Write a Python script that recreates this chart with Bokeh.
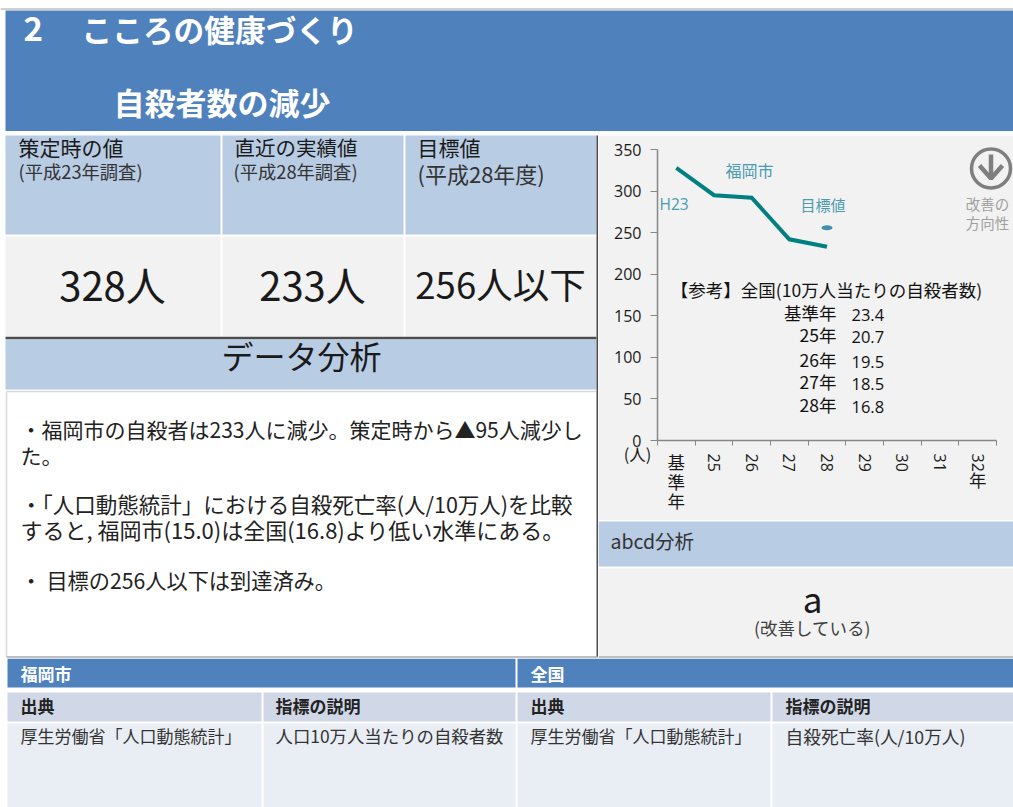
import math
from bokeh.plotting import figure
from bokeh.layouts import column, row
from bokeh.models import Range1d, LinearAxis, FixedTicker
from bokeh.core.properties import value
from bokeh.embed import file_html
from bokeh.resources import INLINE

# ---- chart data ----
year_labels = ["基準年", "25", "26", "27", "28", "29", "30", "31", "32年"]
fukuoka_values = [328, 295, 292, 242, 233]
target_value = [256]
target_index = [4]
y_ticks = [0, 50, 100, 150, 200, 250, 300, 350]
national_title = "【参考】全国(10万人当たりの自殺者数)"
national_years = ["基準年", "25年", "26年", "27年", "28年"]
national_values = ["23.4", "20.7", "19.5", "18.5", "16.8"]

# ---- texts ----
title_line1 = "こころの健康づくり"
title_line2 = "自殺者数の減少"
head_main = ["策定時の値", "直近の実績値", "目標値"]
head_sub = ["(平成23年調査)", "(平成28年調査)", "(平成28年度)"]
kpi_values = ["328人", "233人", "256人以下"]
analysis_lines = [
    "・福岡市の自殺者は233人に減少。策定時から▲95人減少し",
    "た。",
    "・「人口動態統計」における自殺死亡率(人/10万人)を比較",
    "すると, 福岡市(15.0)は全国(16.8)より低い水準にある。",
    "・ 目標の256人以下は到達済み。",
]
source_regions = ["福岡市", "全国"]
source_heads = ["出典", "指標の説明"]
source_cells = ["厚生労働省「人口動態統計」", "人口10万人当たりの自殺者数", "厚生労働省「人口動態統計」", "自殺死亡率(人/10万人)"]

JP = "Noto Sans CJK JP"
LAT = "Open Sans"
BANNER = "#4f81bd"
HEAD = "#b8cce4"
PANEL = "#f2f2f2"
DARK = "#4d4d4d"
TEAL = "#4a9ab0"


def sheet(x0, x1, y0, y1):
    p = figure(width=x1 - x0, height=y1 - y0, output_backend="svg", toolbar_location=None,
               x_range=Range1d(x0, x1), y_range=Range1d(y1, y0),
               x_axis_location=None, y_axis_location=None, min_border=0,
               outline_line_color=None, background_fill_color="white", border_fill_color="white")
    p.grid.visible = False
    return p


def box(p, x0, x1, y0, y1, color, **kw):
    p.quad(left=[x0], right=[x1], top=[y0], bottom=[y1], fill_color=color, line_color=None, **kw)


def rule(p, x0, y0, x1, y1, color, w, **kw):
    p.segment(x0=[x0], y0=[y0], x1=[x1], y1=[y1], line_color=color, line_width=w, **kw)


def txt(p, x, y, s, size, color="#1a1a1a", font=JP, style="normal", align="left", **kw):
    lift = -size * 0.1 if font == JP else 0
    p.text(x=[x], y=[y], text=[s], text_font=value(font), text_font_size=value(f"{size}px"),
           text_font_style=style, text_color=color, text_align=align, text_baseline="middle",
           y_offset=lift, **kw)


# ---- top banner ----
top = sheet(0, 1013, 0, 131)
rule(top, 0, 8.5, 1013, 8.5, "#d0d0d0", 2)
box(top, 5, 1013, 10, 131, BANNER)
txt(top, 23, 31, "2", 33, "white", style="bold")
txt(top, 81, 31, title_line1, 30.7, "white", style="bold")
txt(top, 113, 104, title_line2, 31, "white", style="bold")

# ---- left column ----
left = sheet(0, 598, 131, 658)
cols = [(5, 220), (222, 403), (405, 596)]
for (a, b) in cols:
    box(left, a, b, 135, 234, HEAD)
    box(left, a, b, 236, 336, PANEL)
box(left, 5, 596, 339, 389, HEAD)
rule(left, 5, 337.5, 596, 337.5, DARK, 2.5)
rule(left, 6, 391, 596, 391, "#d9d9d9", 1.5)
rule(left, 6, 391, 6, 656, "#d9d9d9", 1.5)
rule(left, 6, 656.5, 598, 656.5, "#bfbfbf", 2)
rule(left, 597, 135, 597, 656, DARK, 2)
txt(left, 18, 149, head_main[0], 21)
txt(left, 234, 149, head_main[1], 20.5)
txt(left, 417, 149, head_main[2], 21)
txt(left, 18, 172, head_sub[0], 18.3, "#333333")
txt(left, 233, 172, head_sub[1], 18.3, "#333333")
txt(left, 417, 175, head_sub[2], 22, "#333333")
txt(left, 112, 287, kpi_values[0], 40, align="center")
txt(left, 312, 287, kpi_values[1], 40, align="center")
txt(left, 500, 287, kpi_values[2], 36.5, align="center")
txt(left, 301, 358, "データ分析", 32, align="center")
for yy, line, z in zip([431, 457, 505, 531, 581], analysis_lines, [21, 21, 21.5, 22, 21.2]):
    txt(left, 20, yy, line, z, "#222222")

# ---- chart ----
PX_L, PX_R, PX_T, PX_B = 598, 1013, 131, 520
X0_PX, X9_PX, Y0_PX, Y350_PX = 657, 996, 440, 149
ux = (X9_PX - X0_PX) / len(year_labels)
uy = (Y0_PX - Y350_PX) / 350
chart = figure(width=PX_R - PX_L, height=PX_B - PX_T, output_backend="svg", toolbar_location=None,
               x_range=Range1d((PX_L - X0_PX) / ux, (PX_R - X0_PX) / ux),
               y_range=Range1d((Y0_PX - PX_B) / uy, (Y0_PX - PX_T) / uy),
               x_axis_location=None, y_axis_location=None, min_border=0,
               outline_line_color=None, background_fill_color=PANEL, border_fill_color=PANEL)
chart.grid.visible = False
chart.extra_x_ranges["px"] = Range1d(PX_L, PX_R)
chart.extra_y_ranges["px"] = Range1d(PX_B, PX_T)
PXK = dict(x_range_name="px", y_range_name="px")
box(chart, PX_L, PX_R, PX_T, 135, "white", **PXK)

yaxis = LinearAxis(ticker=FixedTicker(ticks=y_ticks), bounds=(0, 350), fixed_location=0,
                   axis_line_color="#868686", axis_line_width=1.5,
                   major_tick_line_color="#868686", major_tick_in=0, major_tick_out=7,
                   minor_tick_line_color=None, major_label_standoff=9,
                   major_label_text_font=LAT, major_label_text_font_size="16px",
                   major_label_text_color="#1a1a1a")
boundaries = list(range(len(year_labels) + 1))
xaxis = LinearAxis(ticker=FixedTicker(ticks=boundaries),
                   bounds=(0, len(year_labels)), fixed_location=0,
                   axis_line_color="#868686", axis_line_width=1.5,
                   major_tick_line_color="#868686", major_tick_in=0, major_tick_out=5,
                   minor_tick_line_color=None,
                   major_label_overrides={b: "" for b in boundaries})
chart.add_layout(yaxis, "left")
chart.add_layout(xaxis, "below")

# category labels
for i, lab in enumerate(year_labels):
    cx = i + 0.5
    if lab == "基準年":
        for k, ch in enumerate(lab):
            txt(chart, cx, (Y0_PX - (463 + k * 19.5)) / uy, ch, 17.5, align="center")
    else:
        digits = lab.rstrip("年")
        chart.text(x=[cx], y=[(Y0_PX - 453) / uy], text=[digits], angle=[-math.pi / 2],
                   text_font=value(LAT), text_font_size=value("16px"), text_color="#1a1a1a",
                   text_align="left", text_baseline="middle")
        if lab.endswith("年"):
            txt(chart, cx, (Y0_PX - 481) / uy, "年", 17.5, align="center")

chart.line(x=[i + 0.5 for i in range(len(fukuoka_values))], y=fukuoka_values,
           line_color="#008080", line_width=4, line_join="miter")
chart.ellipse(x=[i + 0.5 for i in target_index], y=target_value, width=11, height=5,
              width_units="screen", height_units="screen", fill_color="#3f90a8", line_color=None)

txt(chart, 725, 171, "福岡市", 16, TEAL, **PXK)
txt(chart, 659, 203, "H23", 15.5, TEAL, font=LAT, **PXK)
txt(chart, 800, 205, "目標値", 15, TEAL, **PXK)
txt(chart, 987, 204, "改善の", 14.5, "#a0a0a0", align="center", **PXK)
txt(chart, 987, 223, "方向性", 14.5, "#a0a0a0", align="center", **PXK)

# direction icon
chart.scatter(x=[990.5], y=[168], size=39, marker="circle", fill_color=None,
              line_color="#7f7f7f", line_width=3.5, **PXK)
chart.multi_line(xs=[[990.5, 990.5], [979, 990.5, 1002]], ys=[[154, 178], [165, 178, 165]],
                 line_color="#7f7f7f", line_width=4.5, **PXK)

txt(chart, 826, 291, national_title, 17.5, "#111111", align="center", **PXK)
for yy, a, b in zip([314, 336, 361, 383, 406], national_years, national_values):
    txt(chart, 836, yy, a, 17.5, "#111111", align="right", **PXK)
    txt(chart, 851, yy, b, 16.5, "#111111", font=LAT, **PXK)
txt(chart, 637, 455, "(人)", 16.5, "#1a1a1a", align="center", **PXK)

# ---- abcd ----
abcd = sheet(598, 1013, 520, 658)
box(abcd, 598, 1013, 521, 566, HEAD)
box(abcd, 598, 1013, 568, 656, PANEL)
rule(abcd, 598, 656.5, 1013, 656.5, "#bfbfbf", 2)
txt(abcd, 610, 542, "abcd分析", 19.5, "#333333")
txt(abcd, 812, 600, "a", 35, "#1a1a1a", align="center")
txt(abcd, 812, 629, "(改善している)", 17.5, "#404040", align="center")

# ---- source table ----
bot = sheet(0, 1013, 658, 807)
box(bot, 7, 515, 658, 687, BANNER)
box(bot, 517, 1013, 658, 687, BANNER)
cells = [(7, 261), (263, 515), (517, 770), (772, 1013)]
for (a, b) in cells:
    box(bot, a, b, 692, 721, "#d0d8e8")
    box(bot, a, b, 723, 807, "#e9edf4")
txt(bot, 20, 675, source_regions[0], 17, "white", style="bold")
txt(bot, 530, 675, source_regions[1], 17, "white", style="bold")
for x, h in zip([20, 275, 530, 785], source_heads * 2):
    txt(bot, x, 707, h, 17, "#222222", style="bold")
for x, s, z in zip([20, 275, 530, 785], source_cells, [17, 17.4, 17, 17.7]):
    txt(bot, x, 737, s, z, "#333333")

page = column(top, row(left, column(chart, abcd, spacing=0), spacing=0), bot, spacing=0)
open("out.html", "w").write(file_html(page, INLINE))
